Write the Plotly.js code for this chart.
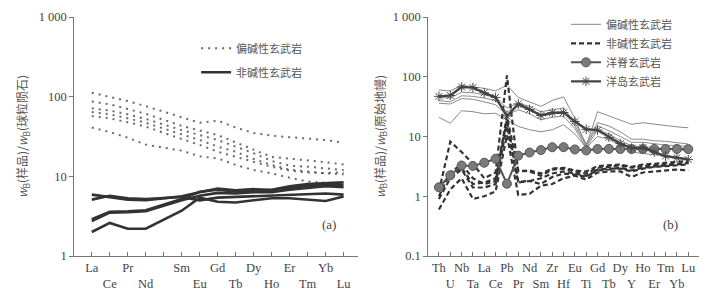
<!DOCTYPE html>
<html><head><meta charset="utf-8">
<script src="https://cdn.plot.ly/plotly-3.0.1.min.js"></script>
<style>html,body{margin:0;padding:0;background:#fff}#chart{width:721px;height:296px}</style>
</head><body><div id="chart"></div>
<script>
// ---------- Panel (a): chondrite-normalised REE ----------
const reeAxis = ['La','Ce','Pr','Nd','Pm','Sm','Eu','Gd','Tb','Dy','Ho','Er','Tm','Yb','Lu'];
const reeLabelled = ['La','Ce','Pr','Nd','Sm','Eu','Gd','Tb','Dy','Ho','Er','Tm','Yb','Lu'];
const reeTickText = ['La','<br>Ce','Pr','<br>Nd','Sm','<br>Eu','Gd','<br>Tb','Dy','<br>Ho','Er','<br>Tm','Yb','<br>Lu'];
const reeElems = ['La','Ce','Pr','Nd','Sm','Eu','Gd','Tb','Dy','Ho','Er','Tm','Yb','Lu'];

// 偏碱性玄武岩 (dotted)
const alkA = [112,100,88,76,56,47,50,41,35,32.4,31,29.7,28.6,26.5];
const alkB = [87,80,70,61,43,38,33,26.7,21.4,17.5,16.7,16,15,14.1];
const alkC = [71.5,67,60,52.5,38,33,28.6,23.6,19.5,15.6,13.6,13.2,12.6,12];
const alkD = [64,60,53.5,47,33.6,28.6,23.6,20.4,16.5,13.9,12.1,11.5,10.9,10.6];
const alkE = [57,53.5,47.7,42,29.4,24.8,20.4,17.8,15.2,13.2,11.8,11.2,11,11.2];
const alkF = [41,36,30.5,25,21,17.8,16.8,13.9,12,10.9,9.6,8.6,8.3,8.2];
// 非碱性玄武岩 (solid)
const nonA = [5.9,5.5,5.1,5.0,5.6,6.3,7.0,6.7,6.9,6.8,7.5,8.0,8.2,8.4];
const nonB = [5.1,5.7,5.3,5.2,5.5,5.0,5.4,5.5,5.6,5.7,5.9,6.0,6.1,5.9];
const nonC = [2.9,3.6,3.65,3.75,5.2,6.4,6.8,6.4,6.6,6.5,7.1,7.6,7.8,7.8];
const nonD = [2.75,3.5,3.55,3.65,5.0,5.7,6.2,6.1,6.3,6.3,6.8,7.2,7.5,7.3];
const nonE = [2.0,2.6,2.2,2.2,3.7,5.4,4.8,4.7,5.0,5.3,5.3,5.1,4.9,5.6];

// ---------- Panel (b): primitive-mantle-normalised spider ----------
const spElems = ['Th','U','Nb','Ta','La','Ce','Pb','Pr','Nd','Sm','Zr','Hf','Eu','Ti','Gd','Tb','Dy','Y','Ho','Er','Tm','Yb','Lu'];
const spTickText = ['Th','<br>U','Nb','<br>Ta','La','<br>Ce','Pb','<br>Pr','Nd','<br>Sm','Zr','<br>Hf','Eu','<br>Ti','Gd','<br>Tb','Dy','<br>Y','Ho','<br>Er','Tm','<br>Yb','Lu'];

const thin1 = [60,58,72,68,64,58,72,45,38,32,40,46,20,7,26,22,19,16,17,16,15,14.5,14];
const thin2 = [45,44,55,54,50,45,30,36,32,26,28,30,17,7.5,17,15,12,9,9,8.5,8.3,8,7.5];
const thin3 = [40,38,48,47,44,40,26,32,28,22,24,26,15,7,15,12.5,10,8,8,7.5,7.2,7,6.8];
const thin4 = [36,35,43,42,38,34,23,28,24,19,21,22,13.5,6.5,13,11,8.5,7,6.8,6.5,6.3,6,5.8];
const thin5 = [21,16.6,27,26,24,24.5,19,14.7,13,12,13,15.7,11,6.5,10,9,7,5.5,5.2,5,4.8,4.5,4.3];

const dash1 = [1.2,8.2,5.5,3.5,2.0,2.5,105,2.6,2.7,2.4,2.9,3.0,2.7,2.6,3.2,3.3,3.4,3.1,3.4,3.5,3.6,3.8,3.9];
const dash2 = [1.0,2.5,3.4,2.0,1.6,1.8,22,2.7,2.6,2.2,2.8,2.9,2.6,2.4,3.0,3.1,3.3,3.0,3.2,3.3,3.4,3.5,3.6];
const dash3 = [0.9,2.0,2.8,1.4,1.4,1.6,15,1.7,1.8,1.6,2.1,2.4,2.3,2.1,2.8,2.9,2.9,2.6,2.9,3.1,3.2,3.3,3.4];
const dash4 = [0.6,1.3,2.0,0.9,1.0,1.2,10.5,1.05,1.1,1.5,1.6,2.0,2.2,1.9,2.5,2.6,2.6,2.1,2.5,2.6,2.7,2.8,2.7];
const dash5 = [1.35,2.3,3.0,1.6,1.7,2.0,19,1.75,1.8,2.0,2.4,2.6,2.4,2.2,2.7,2.8,3.0,2.7,3.0,3.1,3.2,3.4,3.6];

const morb = [1.41,2.24,3.27,3.22,3.64,4.23,1.62,4.78,5.39,5.92,6.61,6.63,6.07,5.85,6.17,6.2,6.17,6.15,6.16,6.19,6.16,6.19,6.15];
const oib  = [47,48.6,67.3,65.9,53.9,45.1,22,35.1,28.4,22.5,25,25.2,17.9,13.2,12.8,9.7,7.6,6.4,6.5,5.5,4.7,4.4,4.1];

const legAlk = '偏碱性玄武岩', legNon = '非碱性玄武岩', legMorb = '洋脊玄武岩', legOib = '洋岛玄武岩';

const cjk = '"Noto Sans CJK SC", "Noto Sans", sans-serif';
const serif = '"Liberation Serif", "DejaVu Serif", serif';

const traces = [];
[alkA,alkB,alkC,alkD,alkE,alkF].forEach((v,i)=>traces.push({
  x: reeElems, y: v, xaxis:'x', yaxis:'y', mode:'lines', type:'scatter',
  line:{color:'#6a6a6a', width:2, dash:'2px,5px'},
  name: legAlk, legendgroup:'alk', showlegend: i===0, legend:'legend', hoverinfo:'skip'
}));
[nonA,nonB,nonC,nonD,nonE].forEach((v,i)=>traces.push({
  x: reeElems, y: v, xaxis:'x', yaxis:'y', mode:'lines', type:'scatter',
  line:{color:'#333', width:2.6},
  name: legNon, legendgroup:'non', showlegend: i===0, legend:'legend', hoverinfo:'skip'
}));
[thin1,thin2,thin3,thin4,thin5].forEach((v,i)=>traces.push({
  x: spElems, y: v, xaxis:'x2', yaxis:'y2', mode:'lines', type:'scatter',
  line:{color:'#8a8a8a', width:1},
  name: legAlk, legendgroup:'alk2', showlegend: i===0, legend:'legend2', hoverinfo:'skip'
}));
[dash1,dash2,dash3,dash4,dash5].forEach((v,i)=>traces.push({
  x: spElems, y: v, xaxis:'x2', yaxis:'y2', mode:'lines', type:'scatter',
  line:{color:'#333', width:2.2, dash:'5px,3px'},
  name: legNon, legendgroup:'non2', showlegend: i===0, legend:'legend2', hoverinfo:'skip'
}));
traces.push({
  x: spElems, y: morb, xaxis:'x2', yaxis:'y2', mode:'lines+markers', type:'scatter',
  line:{color:'#555', width:2}, marker:{symbol:'circle', size:9, color:'#7a7a7a', line:{color:'#555', width:1}},
  name: legMorb, legendgroup:'morb', legend:'legend2', hoverinfo:'skip'
});
traces.push({
  x: spElems, y: oib, xaxis:'x2', yaxis:'y2', mode:'lines+markers', type:'scatter',
  line:{color:'#444', width:2.4}, marker:{symbol:'asterisk-open', size:8, line:{color:'#555', width:1}},
  name: legOib, legendgroup:'oib', legend:'legend2', hoverinfo:'skip'
});
// empty helper trace so the tick-only companion axis (unlabelled Pm position) is drawn
traces.push({x:[], y:[], xaxis:'x3', yaxis:'y', type:'scatter', mode:'lines', showlegend:false, hoverinfo:'skip'});

const axCommon = {showline:true, linecolor:'#777', linewidth:1, showgrid:false, zeroline:false,
  tickcolor:'#777', ticklen:4, tickangle:0, tickfont:{family:serif, size:12.5, color:'#444'}};
const domA = [0.1031,0.4965], rangeA = [-0.97,14.8];

const layout = {
  width:721, height:296, margin:{l:0, r:0, t:17, b:40},
  paper_bgcolor:'#fff', plot_bgcolor:'#fff', showlegend:true,
  xaxis: Object.assign({}, axCommon, {domain:domA, anchor:'y', type:'category',
    categoryorder:'array', categoryarray: reeAxis, range:rangeA, ticks:'inside',
    tickmode:'array', tickvals: reeLabelled, ticktext: reeTickText}),
  xaxis3: {domain:domA, anchor:'y', overlaying:'x', type:'linear', range:rangeA,
    showline:false, showgrid:false, zeroline:false, ticks:'inside', ticklen:4, tickcolor:'#777',
    tickmode:'array', tickvals:[reeAxis.indexOf('Pm')], showticklabels:false},
  yaxis: Object.assign({}, axCommon, {domain:[0,1], anchor:'x', type:'log', range:[0,3], ticks:'outside',
    tickmode:'array', tickvals:[1,10,100,1000], ticktext:['1','10','100','1 000'],
    title:{text:'<i>w</i><sub>B</sub>(样品)/<i>w</i><sub>B</sub>(球粒陨石)', font:{family:cjk, size:12, color:'#555'}, standoff:8}}),
  xaxis2: Object.assign({}, axCommon, {domain:[0.594,0.9695], anchor:'y2', type:'category',
    categoryorder:'array', categoryarray: spElems, range:[-0.94,22.95], ticks:'inside',
    tickmode:'array', tickvals: spElems, ticktext: spTickText}),
  yaxis2: Object.assign({}, axCommon, {domain:[0,1], anchor:'x2', type:'log', range:[-1,3], ticks:'outside',
    tickmode:'array', tickvals:[0.1,1,10,100,1000], ticktext:['0.1','1','10','100','1 000'],
    title:{text:'<i>w</i><sub>B</sub>(样品)/<i>w</i><sub>B</sub>(原始地幔)', font:{family:cjk, size:12, color:'#555'}, standoff:4}}),
  legend:{x:0.272, y:0.93, xanchor:'left', yanchor:'top', bgcolor:'rgba(0,0,0,0)', borderwidth:0,
    font:{family:cjk, size:11, color:'#555'}, tracegroupgap:5, itemwidth:30},
  legend2:{x:0.785, y:1.03, xanchor:'left', yanchor:'top', bgcolor:'rgba(0,0,0,0)', borderwidth:0,
    font:{family:cjk, size:11, color:'#555'}, tracegroupgap:0, itemwidth:30},
  annotations:[
    {xref:'x domain', yref:'y domain', x:0.93, y:0.09, text:'(a)', showarrow:false, font:{family:serif, size:13, color:'#444'}},
    {xref:'x2 domain', yref:'y2 domain', x:0.93, y:0.09, text:'(b)', showarrow:false, font:{family:serif, size:13, color:'#444'}}
  ]
};
Plotly.newPlot('chart', traces, layout, {displayModeBar:false, staticPlot:true});
</script></body></html>
